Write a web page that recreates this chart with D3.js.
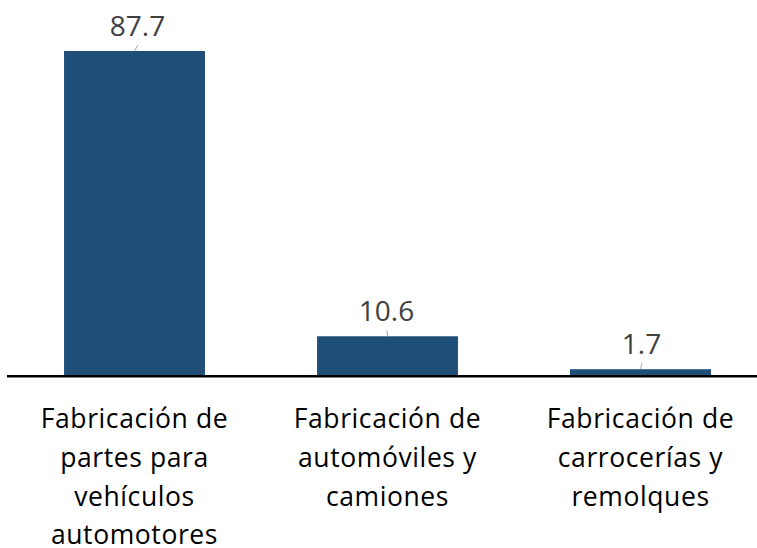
<!DOCTYPE html>
<html>
<head>
<meta charset="utf-8">
<script src="https://cdn.jsdelivr.net/npm/d3@7"></script>
<style>
  html, body { margin: 0; padding: 0; background: #fff; }
  svg { display: block; }
</style>
</head>
<body>
<svg id="chart" width="757" height="548"></svg>
<script>
// data
var categories = [
	["Fabricación de", "partes para", "vehículos", "automotores"],
	["Fabricación de", "automóviles y", "camiones"],
	["Fabricación de", "carrocerías y", "remolques"]
];
var values = [87.7, 10.6, 1.7];
var valueLabels = ["87.7", "10.6", "1.7"];

var W = 757, H = 548,
	baseY = 375.5,
	font = "'Open Sans', sans-serif";

var svg = d3.select("#chart");

var x = d3.scaleBand()
	.domain(d3.range(values.length))
	.range([8, 767])
	.paddingInner(0.443)
	.paddingOuter(0.2215);

var y = d3.scaleLinear()
	.domain([0, d3.max(values)])
	.range([baseY, 51]);

// bars
svg.selectAll("rect.bar")
	.data(values)
	.enter().append("rect")
	.attr("class", "bar")
	.attr("x", function(d, i) { return x(i); })
	.attr("y", function(d) { return y(d); })
	.attr("width", x.bandwidth())
	.attr("height", function(d) { return baseY - y(d); })
	.attr("fill", "#1F4E79");

// baseline
svg.append("line")
	.attr("x1", 7).attr("x2", W)
	.attr("y1", baseY + 0.8).attr("y2", baseY + 0.8)
	.attr("stroke", "#000")
	.attr("stroke-width", 2.6);

// value labels with little leader lines
var labelDx = [3, -1, 1];
var g = svg.selectAll("g.val")
	.data(values)
	.enter().append("g")
	.attr("class", "val");

g.append("line")
	.attr("x1", function(d, i) { return x(i) + x.bandwidth() / 2 + labelDx[i] + 0.5; })
	.attr("y1", function(d) { return y(d) - 6; })
	.attr("x2", function(d, i) { return x(i) + x.bandwidth() / 2; })
	.attr("y2", function(d) { return y(d); })
	.attr("stroke", "#a6a6a6")
	.attr("stroke-width", 1);

g.append("text")
	.attr("x", function(d, i) { return x(i) + x.bandwidth() / 2 + labelDx[i]; })
	.attr("y", function(d) { return y(d) - 15; })
	.attr("text-anchor", "middle")
	.attr("font-family", font)
	.attr("font-size", 28)
	.attr("fill", "#404040")
	.text(function(d, i) { return valueLabels[i]; });

// category labels
svg.selectAll("text.cat")
	.data(categories)
	.enter().append("text")
	.attr("class", "cat")
	.attr("text-anchor", "middle")
	.attr("font-family", font)
	.attr("font-size", 26.5)
	.attr("letter-spacing", 0.6)
	.attr("fill", "#000")
	.each(function(lines, i) {
		var t = d3.select(this);
		lines.forEach(function(l, j) {
			t.append("tspan")
				.attr("x", x(i) + x.bandwidth() / 2)
				.attr("y", 428 + j * 38.8)
				.text(l);
		});
	});
</script>
</body>
</html>
